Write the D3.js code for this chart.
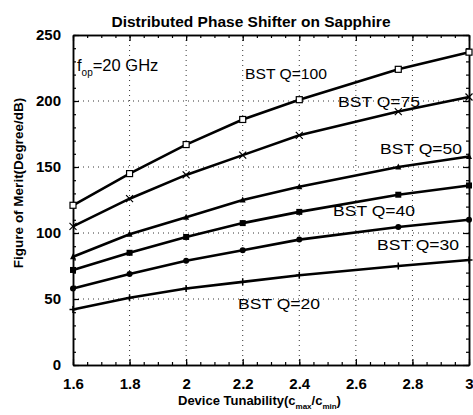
<!DOCTYPE html>
<html><head><meta charset="utf-8">
<script src="https://cdn.jsdelivr.net/npm/d3@7"></script>
<style>body{margin:0;background:#fff}svg{display:block}text{font-family:"Liberation Sans",Arial,sans-serif;fill:#000}</style>
</head><body><svg id="c" width="473" height="415"></svg>
<script>
const xs = [1.6, 1.8, 2.0, 2.2, 2.4, 2.75, 3.0];
const q100 = [121, 145, 167, 186, 201, 224, 237];
const q75 = [105, 126, 144, 159, 174, 192, 203];
const q50 = [82, 99, 112, 125, 135, 150, 158];
const q40 = [72, 85, 97, 107.5, 116, 129, 136];
const q30 = [58, 69, 79, 87, 95, 104.5, 110];
const q20 = [42, 51, 58, 63, 68, 75, 79.5];
const seriesNames = ["BST Q=100","BST Q=75","BST Q=50","BST Q=40","BST Q=30","BST Q=20"];
const xTicks = [1.6,1.8,2,2.2,2.4,2.6,2.8,3];
const yTicks = [0,50,100,150,200,250];

const svg = d3.select("#c");
const L=73,R=469,T=35,B=365;
const x = d3.scaleLinear().domain([1.6,3]).range([L,R]);
const y = d3.scaleLinear().domain([0,250]).range([B,T]);

// grid
const g = svg.append("g");
g.selectAll(".gx").data(xTicks.slice(1,-1)).join("line")
 .attr("x1",d=>x(d)).attr("x2",d=>x(d)).attr("y1",T).attr("y2",B)
 .attr("stroke","#000").attr("stroke-width",0.8).attr("stroke-dasharray","1,4");
g.selectAll(".gy").data(yTicks.slice(1,-1)).join("line")
 .attr("x1",L).attr("x2",R).attr("y1",d=>y(d)).attr("y2",d=>y(d))
 .attr("stroke","#000").attr("stroke-width",0.8).attr("stroke-dasharray","1,4");

// axes
const fmtX = d=> d===2||d===3 ? String(d) : d3.format(".1f")(d);
const ax = svg.append("g").attr("transform",`translate(0,${B})`)
 .call(d3.axisBottom(x).tickValues(xTicks).tickFormat(fmtX).tickSizeInner(-6).tickSizeOuter(0));
svg.append("g").attr("transform",`translate(0,${B})`)
 .call(d3.axisBottom(x).tickValues(d3.range(1.6,3.001,0.05)).tickFormat("").tickSizeInner(-3).tickSizeOuter(0));
svg.append("g").attr("transform",`translate(0,${T})`)
 .call(d3.axisTop(x).tickValues(xTicks).tickFormat("").tickSizeInner(-6).tickSizeOuter(0));
svg.append("g").attr("transform",`translate(0,${T})`)
 .call(d3.axisTop(x).tickValues(d3.range(1.6,3.001,0.05)).tickFormat("").tickSizeInner(-3).tickSizeOuter(0));
const ay = svg.append("g").attr("transform",`translate(${L},0)`)
 .call(d3.axisLeft(y).tickValues(yTicks).tickSizeInner(-6).tickSizeOuter(0).tickPadding(12));
svg.append("g").attr("transform",`translate(${L},0)`)
 .call(d3.axisLeft(y).tickValues(d3.range(0,251,10)).tickFormat("").tickSizeInner(-3).tickSizeOuter(0));
svg.append("g").attr("transform",`translate(${R},0)`)
 .call(d3.axisRight(y).tickValues(yTicks).tickFormat("").tickSizeInner(-6).tickSizeOuter(0));
svg.append("g").attr("transform",`translate(${R},0)`)
 .call(d3.axisRight(y).tickValues(d3.range(0,251,10)).tickFormat("").tickSizeInner(-3).tickSizeOuter(0));
svg.selectAll(".domain").attr("stroke","#000").attr("stroke-width",1.5);
svg.selectAll(".tick line").attr("stroke","#000").attr("stroke-width",1.2);
ax.selectAll("text").attr("font-size",15).attr("font-weight","bold").attr("dy","1.0em");
ay.selectAll("text").attr("font-size",15).attr("font-weight","bold");
ax.selectAll(".tick text").attr("y",9);

// series
const data = [q100,q75,q50,q40,q30,q20];
const line = d3.line().x((d,i)=>x(xs[i])).y(d=>y(d));
const sg = svg.append("g");
data.forEach((s,k)=>{
  sg.append("path").datum(s).attr("d",line).attr("fill","none").attr("stroke","#000").attr("stroke-width",2.6);
  const pts = sg.append("g").selectAll("g").data(s).join("g")
    .attr("transform",(d,i)=>`translate(${x(xs[i])},${y(d)})`);
  if(k===0){
    pts.append("rect").attr("x",-3).attr("y",-3).attr("width",6).attr("height",6).attr("fill","#fff").attr("stroke","#000").attr("stroke-width",1.2);
  } else if(k===1){
    pts.append("path").attr("d","M-3.5,-3.5L3.5,3.5M-3.5,3.5L3.5,-3.5").attr("stroke","#000").attr("stroke-width",1.2);
  } else if(k===2){
    pts.append("path").attr("d","M0,-3.5L3,2.5L-3,2.5Z").attr("fill","#000");
  } else if(k===3){
    pts.append("rect").attr("x",-3).attr("y",-3).attr("width",6).attr("height",6).attr("fill","#000");
  } else if(k===4){
    pts.append("circle").attr("r",3).attr("fill","#000");
  } else {
    pts.append("path").attr("d","M-3.5,0L3.5,0M0,-3.5L0,3.5").attr("stroke","#000").attr("stroke-width",1.5);
  }
});

// labels
const labPos = [[245,79],[338,107],[380,154],[333,216],[377,250],[238,309]];
svg.append("g").selectAll("text").data(seriesNames).join("text")
 .attr("x",(d,i)=>labPos[i][0]).attr("y",(d,i)=>labPos[i][1])
 .attr("font-size",15.5).attr("textLength",82).attr("lengthAdjust","spacingAndGlyphs").text(d=>d);

const fop = svg.append("text").attr("x",77).attr("y",71).attr("font-size",16.5);
fop.append("tspan").text("f");
fop.append("tspan").attr("font-size",10).attr("dy",5).text("op");
fop.append("tspan").attr("dy",-5).text("=20 GHz");

svg.append("text").attr("x",251).attr("y",27).attr("text-anchor","middle").attr("font-size",15.5).attr("font-weight","bold").text("Distributed Phase Shifter on Sapphire");

const xl = svg.append("text").attr("x",178).attr("y",405).attr("font-size",13).attr("font-weight","bold");
xl.append("tspan").text("Device Tunability(c");
xl.append("tspan").attr("font-size",8).attr("dy",4).text("max");
xl.append("tspan").attr("dy",-4).text("/c");
xl.append("tspan").attr("font-size",8).attr("dy",4).text("min");
xl.append("tspan").attr("dy",-4).text(")");

svg.append("text").attr("transform","translate(23,183) rotate(-90)").attr("text-anchor","middle")
 .attr("font-size",13.5).attr("font-weight","bold").text("Figure of Merit(Degree/dB)");
</script></body></html>
